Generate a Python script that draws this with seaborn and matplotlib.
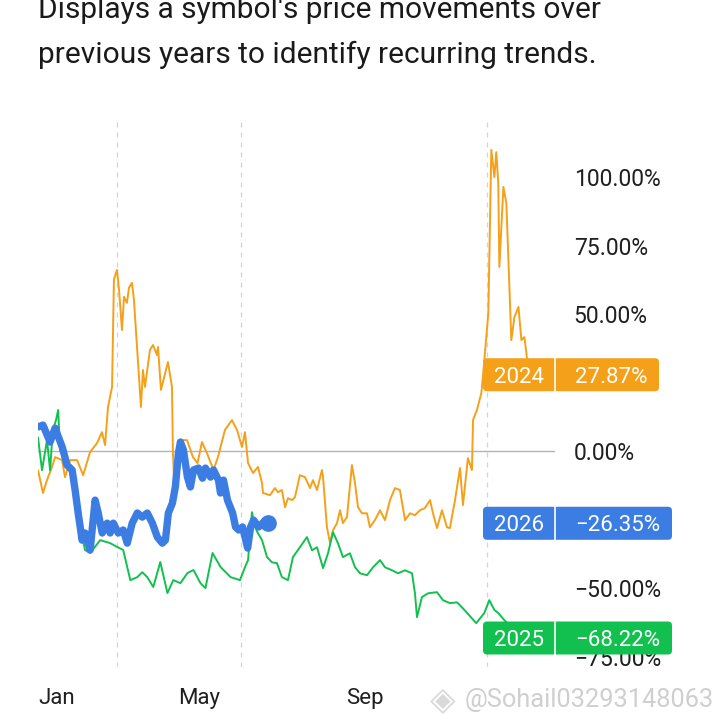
import numpy as np
import pandas as pd
import matplotlib
matplotlib.use("Agg")
import matplotlib.pyplot as plt
import seaborn as sns
from matplotlib.patches import FancyBboxPatch
from matplotlib.transforms import IdentityTransform
from matplotlib.ticker import FuncFormatter

# ---------------- data (day of year, % change) ----------------
days_2024 = [0, 3.7, 6.7, 10.4, 12.7, 17.9, 20.1, 23.9, 29.1, 33.6,
             38.7, 43.9, 47.6, 49.9, 52.1, 55.1, 56.5, 58.0, 58.8, 60.3,
             62.5, 64.0, 66.2, 67.7, 69.9, 71.4, 73.7, 74.4, 76.6, 78.1,
             79.6, 83.3, 85.6, 88.5, 89.3, 91.5, 93.0, 96.7, 99.7, 100.4,
             101.2, 104.5, 108.2, 110.9, 115.3, 118.7, 122.0, 125.7, 130.6, 133.9,
             139.1, 144.3, 148.1, 151.8, 154.0, 156.3, 160.0, 163.7, 166.7, 167.4,
             172.6, 176.3, 178.6, 181.5, 183.8, 186.0, 189.0, 191.2, 194.9, 198.7,
             202.4, 204.6, 207.6, 211.3, 212.1, 215.0, 217.3, 219.5, 222.5, 224.7,
             226.9, 229.9, 233.6, 235.9, 238.1, 241.1, 244.8, 247.0, 250.7, 254.5,
             258.2, 261.9, 265.6, 269.3, 273.1, 276.8, 280.5, 284.2, 287.9, 291.7,
             293.9, 296.9, 300.6, 304.3, 306.5, 310.3, 314.0, 316.2, 319.9, 322.9,
             323.7, 326.6, 329.9, 331.3, 335.1, 337.3, 339.6, 341, 342.5, 343.3,
             346.3, 348.5, 352.2, 354.5, 357.5, 359.7, 361.9, 363.4, 365]
vals_2024 = [-6.9, -15.3, -10.6, -5.8, -2.2, -3.3, -9.5, -3.3, -3.3, -8.8,
             -0.4, 2.9, 6.9, 2.2, 16.1, 23.4, 62.5, 65.0, 66.1, 58.8,
             44.2, 56.3, 54.1, 59.6, 61.4, 55.2, 38.0, 33.2, 16.1, 29.6,
             23.4, 36.9, 38.7, 35.1, 38.0, 22.3, 25.2, 32.5, 23.4, -0.7,
             -9.5, 1.5, 4.0, 4.0, -2.2, -4.4, 3.3, -0.7, -6.9, -2.2,
             7.7, 11.3, 7.7, 1.5, 6.9, -4.4, -8.0, -5.8, -11.7, -15.3,
             -16.1, -13.5, -15.0, -14.2, -20.5, -17.2, -17.9, -16.8, -8.8, -9.5,
             -13.5, -10.6, -14.2, -6.9, -9.5, -27.8, -33.6, -28.9, -26.3, -21.6,
             -26.3, -24.1, -5.1, -11.7, -20.5, -22.7, -22.7, -27.8, -25.2, -21.6,
             -25.2, -17.9, -13.5, -14.2, -25.2, -22.7, -23.4, -21.6, -20.8, -17.9,
             -22.7, -28.1, -21.6, -27.8, -28.1, -17.9, -6.2, -19.7, -2.6, -6.9,
             11.3, 15.0, 21.2, 28.5, 50.4, 109.9, 100, 109.1, 97.8, 67.2,
             96.4, 90.5, 40.5, 48.9, 52.6, 40.5, 41.6, 35.8, 27.87]

days_2025 = [0, 3, 6.7, 9, 11, 13.4, 15, 16.4, 20, 24,
             27.6, 31.3, 35, 38.8, 46.3, 53.7, 59, 63.4, 68.7, 73.9,
             77.6, 81.3, 85.8, 91, 96.3, 100.7, 106, 111.2, 115.7, 120.9,
             124.6, 129.9, 135.8, 143.3, 150.3, 154.0, 156.3, 159.2, 161.5, 163.7,
             166.7, 170.4, 174.1, 177.8, 181.5, 186.0, 189.7, 194.9, 200.1, 203.9,
             207.6, 212.1, 215.8, 219.5, 223.2, 226.9, 232.1, 235.9, 239.6, 244.8,
             249.3, 254.5, 258.2, 263.4, 267.9, 273.1, 278.3, 280.5, 282.0, 285.7,
             290.2, 296.9, 301.3, 306.5, 311.8, 316.2, 326.1, 332.1, 335.8, 339.6,
             342.5, 347, 354, 364]
vals_2025 = [5, -7, 4, -7, 7.7, 11.3, 15, 0.4, -3.3, -7,
             -14.2, -27.7, -36.1, -37.2, -32.5, -33.6, -35, -36.1, -47.1, -46,
             -44.2, -46, -49.6, -40.5, -51.8, -47.1, -48.2, -44.5, -43.4, -48.2,
             -50, -37.2, -42.3, -46, -47.1, -42.4, -39.8, -22.3, -27.8, -30.0,
             -32.5, -38.7, -40.6, -40.9, -46.0, -47.1, -38.7, -35.1, -31.4, -36.2,
             -35.1, -42.7, -37.3, -29.6, -33.6, -38.7, -37.3, -42.4, -44.6, -45.3,
             -42.4, -39.8, -42.4, -43.5, -44.6, -43.5, -44.6, -51.9, -60.6, -53.3,
             -51.9, -51.5, -54.4, -55.5, -55.2, -57.4, -62.8, -59.1, -54.4, -58,
             -59.1, -61.7, -65, -68.22]

days_2026 = [0, 3.7, 9, 12.7, 18, 21.6, 25.4, 27.6, 29.9, 32.8, 35, 38.8, 42.5, 44.8, 47.8, 51.5,
             53.7, 56, 59.7, 63.4, 66.4, 70.1, 73.9, 77.6, 81.3, 85.1, 88.8, 92.5, 94.8, 97, 100,
             102.2, 104.5, 106, 108.2, 111.2, 113.4, 115.7, 119.4, 122.4, 124.6, 128.4, 130.6,
             134.3, 135.8, 138, 141, 144.8, 147, 149.3, 152.2, 156, 158.2, 160.4, 164.2, 167.9, 170.9]
vals_2026 = [8.8, 9.5, 3.3, 8.4, 1.5, -5.1, -6.9, -14.2, -22.6, -32.5, -29.9, -36.1, -17.9, -22.6,
             -29.9, -26.3, -29.9, -26.3, -29.9, -28.8, -33.6, -26.3, -22.6, -24.1, -22.6, -26.3,
             -31.4, -33.6, -32.5, -22.6, -19, -13.1, -0.7, 3.3, 0.4, -9.5, -13.1, -6.9, -6.2, -9.9,
             -6.2, -9.5, -6.9, -10.6, -15.3, -10.6, -17.9, -22.6, -27.7, -28.8, -27.7, -35.4,
             -27.7, -25.2, -27.7, -25.9, -26.35]

years = ["2024", "2025", "2026"]
final_vals = [27.87, -68.22, -26.35]
colors = {"2024": "#F5A019", "2025": "#12C04F", "2026": "#3B7DE3"}

month_ticks = [0, 120, 243]
month_labels = ["Jan", "May", "Sep"]
grid_days = [59, 151, 243, 334]
ytick_vals = [-75, -50, 0, 50, 75, 100]

df = pd.concat([
    pd.DataFrame({"day": days_2024, "pct": vals_2024, "year": "2024"}),
    pd.DataFrame({"day": days_2025, "pct": vals_2025, "year": "2025"}),
    pd.DataFrame({"day": days_2026, "pct": vals_2026, "year": "2026"}),
])

# ---------------- figure ----------------
sns.set_theme(style="white")
plt.rcParams["font.family"] = ["Roboto", "DejaVu Sans"]

W = H = 720
fig = plt.figure(figsize=(7.2, 7.2), dpi=100)
ax = fig.add_axes([38 / W, 53 / H, 517 / W, 545 / H])
ax.set_xlim(0, 384.7)
ax.set_ylim(-78.8, 120.1)

for s in ax.spines.values():
    s.set_visible(False)

ax.set_xticks(grid_days, minor=True)
ax.grid(which="minor", axis="x", color="#d4d4d4", linestyle=(0, (4, 4)), linewidth=0.9)
ax.grid(which="major", visible=False)
ax.axhline(0, color="#b3b3b3", linewidth=1.0, zorder=1)

lw = {"2024": 1.4, "2025": 1.4, "2026": 5.3}
zo = {"2024": 2, "2025": 3, "2026": 4}
for y in years:
    sns.lineplot(data=df[df.year == y], x="day", y="pct", color=colors[y],
                 linewidth=lw[y], ax=ax, zorder=zo[y], estimator=None, sort=False)
d26 = df[df.year == "2026"]
ax.plot(d26.day.iloc[-1], d26.pct.iloc[-1], "o", color=colors["2026"], markersize=11, zorder=5)

ax.set_xlabel("")
ax.set_ylabel("")
ax.set_xticks(month_ticks)
ax.set_xticklabels(month_labels)
ax.tick_params(axis="x", which="both", length=0, pad=15, labelsize=16, labelcolor="#1f1f1f")
ax.get_xticklabels()[0].set_ha("left")

ax.yaxis.tick_right()
ax.set_yticks(ytick_vals)
ax.yaxis.set_major_formatter(FuncFormatter(lambda v, p: f"{v:.2f}%".replace("-", "\u2212")))
ax.tick_params(axis="y", length=0, pad=13.5, labelsize=16.5, labelcolor="#1f1f1f")

# ---------------- header ----------------
fig.text(38 / W, 1 - 18 / H, "Displays a symbol's price movements over", fontsize=21.5,
         color="#1a1a1a", va="baseline", ha="left")
fig.text(38 / W, 1 - 63 / H, "previous years to identify recurring trends.", fontsize=21.5,
         color="#1a1a1a", va="baseline", ha="left")

# ---------------- value labels ----------------
fig.canvas.draw()
box_left = 483
box_div = 555
box_h = 33
box_right = {"2024": 659, "2025": 672, "2026": 672}
for y, v in zip(years, final_vals):
    py = ax.transData.transform((0, v))[1]
    r = box_right[y]
    patch = FancyBboxPatch((box_left, py - box_h / 2), r - box_left, box_h,
                           boxstyle="round,pad=0,rounding_size=4", transform=IdentityTransform(),
                           facecolor=colors[y], edgecolor="none", zorder=10)
    fig.add_artist(patch)
    fig.add_artist(plt.Line2D([box_div / W, box_div / W], [(py - box_h / 2) / H, (py + box_h / 2) / H],
                              transform=fig.transFigure, color="white", linewidth=1.2, zorder=11))
    fig.text((box_left + box_div) / 2 / W, py / H, y, color="white", fontsize=16,
             ha="center", va="center_baseline", zorder=12)
    fig.text((r - 12) / W, py / H, f"{v:.2f}%".replace("-", "\u2212"), color="white",
             fontsize=16, ha="right", va="center_baseline", zorder=12)

# ---------------- watermark ----------------
fig.text(443 / W, 1 - 697 / H, "\u25C8", fontsize=24, color="#d9d9d9", ha="center",
         va="center_baseline", family=["DejaVu Sans"])
fig.text(465 / W, 1 - 697 / H, "@Sohail03293148063", fontsize=18.3, color="#cfcfcf",
         ha="left", va="center_baseline")

fig.savefig("out.png", dpi=100)
